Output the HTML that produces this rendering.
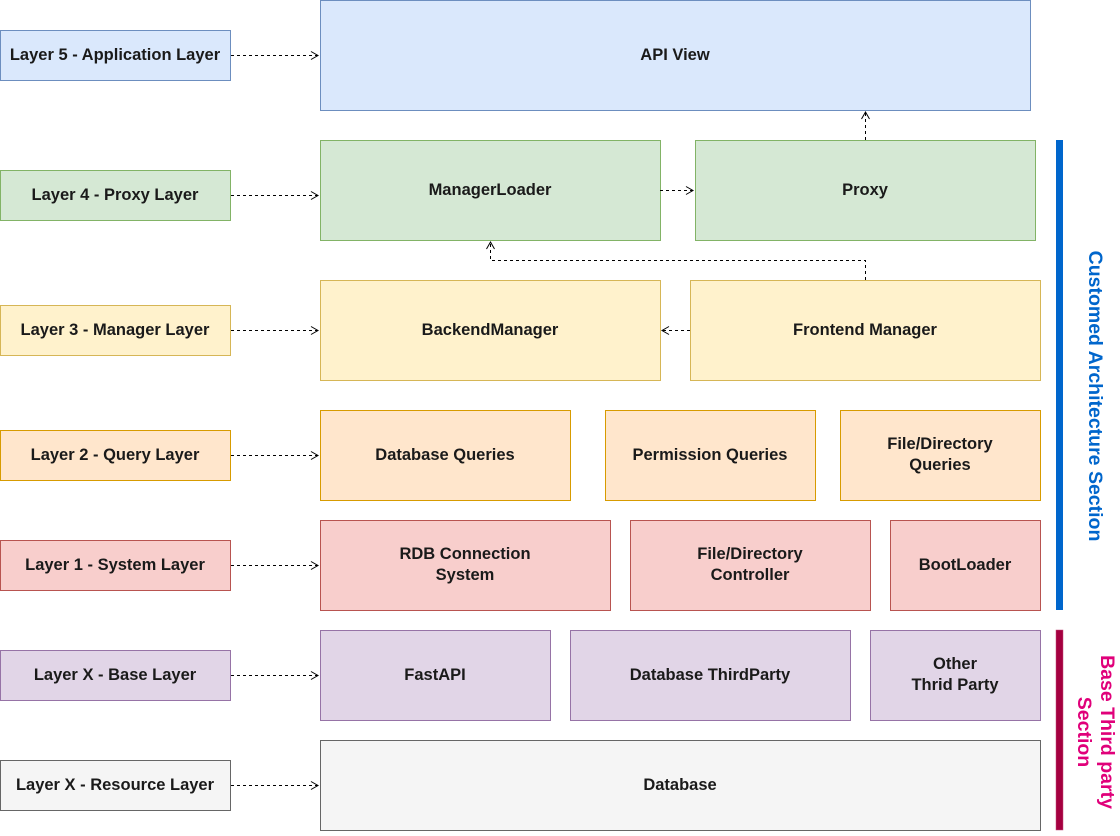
<!DOCTYPE html>
<html><head><meta charset="utf-8"><style>
html,body{margin:0;padding:0;background:#fff;}
svg{display:block;}
text{font-family:"Liberation Sans",Arial,sans-serif;font-weight:bold;font-size:16.5px;fill:#1a1a1a;}
</style></head><body>
<svg width="1120" height="836" viewBox="0 0 1120 836" xmlns="http://www.w3.org/2000/svg">
<defs>
<marker id="a" markerWidth="10" markerHeight="10" refX="8" refY="5" orient="auto" markerUnits="userSpaceOnUse">
<path d="M1,1 L8,5 L1,9" fill="none" stroke="#000" stroke-width="1"/>
</marker>
</defs>
<g stroke-width="1">
<rect x="0.5" y="30.5" width="230" height="50" fill="#dae8fc" stroke="#6c8ebf"/>
<rect x="0.5" y="170.5" width="230" height="50" fill="#d5e8d4" stroke="#82b366"/>
<rect x="0.5" y="305.5" width="230" height="50" fill="#fff2cc" stroke="#d6b656"/>
<rect x="0.5" y="430.5" width="230" height="50" fill="#ffe6cc" stroke="#d79b00"/>
<rect x="0.5" y="540.5" width="230" height="50" fill="#f8cecc" stroke="#b85450"/>
<rect x="0.5" y="650.5" width="230" height="50" fill="#e1d5e7" stroke="#9673a6"/>
<rect x="0.5" y="760.5" width="230" height="50" fill="#f5f5f5" stroke="#666666"/>
<rect x="320.5" y="0.5" width="710" height="110" fill="#dae8fc" stroke="#6c8ebf"/>
<rect x="320.5" y="140.5" width="340" height="100" fill="#d5e8d4" stroke="#82b366"/>
<rect x="695.5" y="140.5" width="340" height="100" fill="#d5e8d4" stroke="#82b366"/>
<rect x="320.5" y="280.5" width="340" height="100" fill="#fff2cc" stroke="#d6b656"/>
<rect x="690.5" y="280.5" width="350" height="100" fill="#fff2cc" stroke="#d6b656"/>
<rect x="320.5" y="410.5" width="250" height="90" fill="#ffe6cc" stroke="#d79b00"/>
<rect x="605.5" y="410.5" width="210" height="90" fill="#ffe6cc" stroke="#d79b00"/>
<rect x="840.5" y="410.5" width="200" height="90" fill="#ffe6cc" stroke="#d79b00"/>
<rect x="320.5" y="520.5" width="290" height="90" fill="#f8cecc" stroke="#b85450"/>
<rect x="630.5" y="520.5" width="240" height="90" fill="#f8cecc" stroke="#b85450"/>
<rect x="890.5" y="520.5" width="150" height="90" fill="#f8cecc" stroke="#b85450"/>
<rect x="320.5" y="630.5" width="230" height="90" fill="#e1d5e7" stroke="#9673a6"/>
<rect x="570.5" y="630.5" width="280" height="90" fill="#e1d5e7" stroke="#9673a6"/>
<rect x="870.5" y="630.5" width="170" height="90" fill="#e1d5e7" stroke="#9673a6"/>
<rect x="320.5" y="740.5" width="720" height="90" fill="#f5f5f5" stroke="#666666"/>
</g>
<rect x="1056" y="140" width="7" height="470" fill="#0066cc"/>
<rect x="1056" y="630" width="7" height="200" fill="#a50040" stroke="#c34d7a" stroke-width="0.5"/>
<g stroke="#000" stroke-dasharray="3,3" fill="none" marker-end="url(#a)">
<path d="M231,55.5 H318"/>
<path d="M231,195.5 H318"/>
<path d="M231,330.5 H318"/>
<path d="M231,455.5 H318"/>
<path d="M231,565.5 H318"/>
<path d="M231,675.5 H318"/>
<path d="M231,785.5 H318"/>
<path d="M660,190.5 H693"/>
<path d="M865.5,140 V112"/>
<path d="M690,330.5 H662"/>
<path d="M865.5,280 V260.5 H490.5 V242"/>
</g>
<g text-anchor="middle">
<text x="115" y="60">Layer 5 - Application Layer</text>
<text x="115" y="200">Layer 4 - Proxy Layer</text>
<text x="115" y="335">Layer 3 - Manager Layer</text>
<text x="115" y="460">Layer 2 - Query Layer</text>
<text x="115" y="570">Layer 1 - System Layer</text>
<text x="115" y="680">Layer X - Base Layer</text>
<text x="115" y="790">Layer X - Resource Layer</text>
<text x="675" y="60">API View</text>
<text x="490" y="195">ManagerLoader</text>
<text x="865" y="195">Proxy</text>
<text x="490" y="335">BackendManager</text>
<text x="865" y="335">Frontend Manager</text>
<text x="445" y="460">Database Queries</text>
<text x="710" y="460">Permission Queries</text>
<text x="940" y="449">File/Directory</text>
<text x="940" y="470">Queries</text>
<text x="465" y="559">RDB Connection</text>
<text x="465" y="580">System</text>
<text x="750" y="559">File/Directory</text>
<text x="750" y="580">Controller</text>
<text x="965" y="570">BootLoader</text>
<text x="435" y="680">FastAPI</text>
<text x="710" y="680">Database ThirdParty</text>
<text x="955" y="669">Other</text>
<text x="955" y="690">Thrid Party</text>
<text x="680" y="790">Database</text>
</g>
<g text-anchor="middle">
<text transform="translate(1089,396) rotate(90)" style="fill:#0066cc;font-size:19.5px">Customed Architecture Section</text>
<text transform="translate(1101,732) rotate(90)" style="fill:#e0007a;font-size:19.5px">Base Third party</text>
<text transform="translate(1078,732) rotate(90)" style="fill:#e0007a;font-size:19.5px">Section</text>
</g>
</svg>
</body></html>
